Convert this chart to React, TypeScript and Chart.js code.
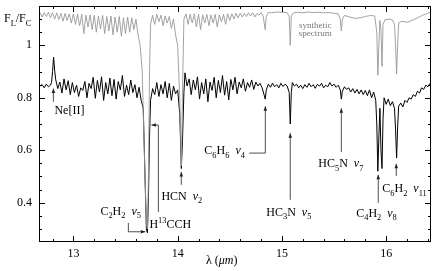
import React, { useEffect, useRef } from "react";
import { Chart, registerables } from "chart.js";

Chart.register(...registerables);

// ---- Observed spectrum (F_L / F_C) ----
const obsWave = [
  12.68, 12.70, 12.72, 12.74, 12.76, 12.78, 12.79, 12.80, 12.81, 12.82,
  12.83, 12.85, 12.87, 12.89, 12.91, 12.93, 12.95, 12.97, 12.99, 13.01,
  13.03, 13.05, 13.07, 13.09, 13.11, 13.13, 13.15, 13.17, 13.19, 13.21,
  13.23, 13.25, 13.27, 13.29, 13.31, 13.33, 13.35, 13.37, 13.39, 13.41,
  13.43, 13.45, 13.47, 13.49, 13.51, 13.53, 13.55, 13.57, 13.59, 13.61,
  13.63, 13.65, 13.67, 13.69, 13.70, 13.71, 13.72, 13.73, 13.74, 13.76,
  13.78, 13.80, 13.82, 13.84, 13.86, 13.88, 13.90, 13.92, 13.94, 13.96,
  13.98, 14.00, 14.02, 14.035, 14.045, 14.06, 14.07, 14.09, 14.11, 14.13,
  14.15, 14.17, 14.19, 14.21, 14.23, 14.25, 14.27, 14.29, 14.31, 14.33,
  14.35, 14.37, 14.39, 14.41, 14.43, 14.45, 14.47, 14.49, 14.51, 14.53,
  14.55, 14.57, 14.59, 14.61, 14.63, 14.65, 14.67, 14.69, 14.71, 14.73,
  14.75, 14.77, 14.79, 14.81, 14.83, 14.84, 14.85, 14.87, 14.89, 14.91,
  14.93, 14.95, 14.97, 14.99, 15.01, 15.03, 15.05, 15.07, 15.08, 15.09,
  15.10, 15.12, 15.14, 15.16, 15.18, 15.20, 15.22, 15.24, 15.26, 15.28,
  15.30, 15.32, 15.34, 15.36, 15.38, 15.40, 15.42, 15.44, 15.46, 15.48,
  15.50, 15.52, 15.54, 15.56, 15.57, 15.58, 15.60, 15.62, 15.64, 15.66,
  15.68, 15.70, 15.72, 15.74, 15.76, 15.78, 15.80, 15.82, 15.84, 15.86,
  15.88, 15.90, 15.91, 15.92, 15.93, 15.94, 15.95, 15.96, 15.97, 15.98,
  16.00, 16.02, 16.04, 16.06, 16.08, 16.09, 16.10, 16.11, 16.12, 16.14,
  16.16, 16.18, 16.20, 16.22, 16.24, 16.26, 16.28, 16.30, 16.32, 16.34,
  16.36, 16.38, 16.40, 16.42,
];
const obsFlux = [
  0.845, 0.850, 0.838, 0.852, 0.842, 0.848, 0.858, 0.900, 0.955, 0.905,
  0.870, 0.835, 0.860, 0.818, 0.872, 0.830, 0.865, 0.812, 0.858, 0.820,
  0.848, 0.805, 0.838, 0.828, 0.862, 0.800, 0.855, 0.835, 0.878, 0.798,
  0.866, 0.822, 0.880, 0.790, 0.858, 0.815, 0.875, 0.808, 0.870, 0.795,
  0.862, 0.830, 0.885, 0.805, 0.848, 0.812, 0.868, 0.820, 0.850, 0.800,
  0.840, 0.790, 0.760, 0.450, 0.300, 0.285, 0.420, 0.650, 0.790, 0.835,
  0.812, 0.858, 0.805, 0.850, 0.815, 0.862, 0.800, 0.855, 0.790, 0.845,
  0.815, 0.830, 0.740, 0.530, 0.620, 0.820, 0.895, 0.845, 0.872, 0.812,
  0.868, 0.830, 0.880, 0.795, 0.858, 0.815, 0.872, 0.785, 0.860, 0.828,
  0.878, 0.800, 0.866, 0.820, 0.885, 0.810, 0.862, 0.792, 0.870, 0.830,
  0.878, 0.815, 0.860, 0.838, 0.872, 0.825, 0.858, 0.840, 0.868, 0.832,
  0.860, 0.845, 0.855, 0.838, 0.810, 0.795, 0.830, 0.852, 0.840, 0.856,
  0.842, 0.850, 0.838, 0.855, 0.843, 0.852, 0.845, 0.820, 0.700, 0.820,
  0.858, 0.845, 0.852, 0.838, 0.848, 0.835, 0.850, 0.840, 0.855, 0.842,
  0.850, 0.836, 0.852, 0.844, 0.855, 0.838, 0.848, 0.842, 0.858, 0.845,
  0.852, 0.840, 0.848, 0.830, 0.795, 0.825, 0.842, 0.832, 0.838, 0.822,
  0.835, 0.818, 0.832, 0.815, 0.830, 0.812, 0.828, 0.808, 0.830, 0.800,
  0.822, 0.790, 0.700, 0.520, 0.650, 0.760, 0.600, 0.530, 0.720, 0.800,
  0.775, 0.795, 0.770, 0.785, 0.760, 0.680, 0.570, 0.690, 0.768, 0.780,
  0.765, 0.790, 0.782, 0.800, 0.795, 0.812, 0.805, 0.825, 0.818, 0.838,
  0.832, 0.848, 0.842, 0.855,
];

// ---- Synthetic spectrum ----
const synWave = [
  12.68, 12.70, 12.72, 12.74, 12.76, 12.78, 12.80, 12.82, 12.84, 12.86,
  12.88, 12.90, 12.92, 12.94, 12.96, 12.98, 13.00, 13.02, 13.04, 13.06,
  13.08, 13.10, 13.12, 13.14, 13.16, 13.18, 13.20, 13.22, 13.24, 13.26,
  13.28, 13.30, 13.32, 13.34, 13.36, 13.38, 13.40, 13.42, 13.44, 13.46,
  13.48, 13.50, 13.52, 13.54, 13.56, 13.58, 13.60, 13.62, 13.64, 13.66,
  13.68, 13.70, 13.71, 13.72, 13.73, 13.74, 13.76, 13.78, 13.80, 13.82,
  13.84, 13.86, 13.88, 13.90, 13.92, 13.94, 13.96, 13.98, 14.00, 14.02,
  14.035, 14.05, 14.06, 14.08, 14.10, 14.12, 14.14, 14.16, 14.18, 14.20,
  14.22, 14.24, 14.26, 14.28, 14.30, 14.32, 14.34, 14.36, 14.38, 14.40,
  14.42, 14.44, 14.46, 14.48, 14.50, 14.52, 14.54, 14.56, 14.58, 14.60,
  14.62, 14.64, 14.66, 14.68, 14.70, 14.72, 14.74, 14.76, 14.78, 14.80,
  14.82, 14.84, 14.85, 14.87, 14.90, 14.95, 15.00, 15.05, 15.07, 15.08,
  15.09, 15.11, 15.15, 15.20, 15.25, 15.30, 15.35, 15.40, 15.45, 15.50,
  15.54, 15.56, 15.57, 15.58, 15.60, 15.65, 15.70, 15.75, 15.80, 15.85,
  15.89, 15.91, 15.92, 15.93, 15.94, 15.95, 15.96, 15.97, 15.99, 16.03,
  16.06, 16.08, 16.09, 16.10, 16.11, 16.12, 16.15, 16.20, 16.25, 16.30,
  16.35, 16.40, 16.43,
];
const synFlux = [
  1.125, 1.108, 1.125, 1.110, 1.126, 1.105, 1.125, 1.100, 1.124, 1.098,
  1.122, 1.092, 1.122, 1.095, 1.120, 1.085, 1.120, 1.080, 1.118, 1.075,
  1.118, 1.045, 1.115, 1.070, 1.116, 1.060, 1.115, 1.050, 1.112, 1.062,
  1.114, 1.045, 1.110, 1.055, 1.112, 1.040, 1.108, 1.050, 1.110, 1.035,
  1.105, 1.045, 1.108, 1.050, 1.105, 1.060, 1.100, 1.040, 1.000, 0.900,
  0.600, 0.320, 0.300, 0.500, 0.900, 1.080, 1.115, 1.080, 1.118, 1.090,
  1.115, 1.075, 1.112, 1.085, 1.110, 1.065, 1.100, 1.040, 1.000, 0.800,
  0.540, 0.900, 1.100, 1.120, 1.080, 1.118, 1.085, 1.120, 1.070, 1.118,
  1.060, 1.116, 1.085, 1.118, 1.075, 1.116, 1.085, 1.118, 1.070, 1.116,
  1.090, 1.118, 1.080, 1.120, 1.095, 1.120, 1.100, 1.122, 1.105, 1.122,
  1.108, 1.122, 1.110, 1.124, 1.112, 1.124, 1.108, 1.122, 1.115, 1.125,
  1.112, 1.060, 1.110, 1.126, 1.124, 1.127, 1.126, 1.125, 1.110, 1.000,
  1.112, 1.124, 1.126, 1.124, 1.127, 1.125, 1.126, 1.124, 1.125, 1.122,
  1.120, 1.100, 1.055, 1.100, 1.114, 1.108, 1.103, 1.105, 1.110, 1.114,
  1.112, 1.050, 0.886, 1.000, 1.095, 1.060, 0.920, 1.080, 1.098, 1.100,
  1.097, 1.080, 1.000, 0.890, 1.000, 1.085, 1.092, 1.088, 1.095, 1.105,
  1.115, 1.122, 1.128,
];

// ---- Axes ----
const xMin = 12.67;
const xMax = 16.43;
const yMin = 0.25;
const yMax = 1.15;
const xTickLabels = [13, 14, 15, 16];
const yTickLabels = [0.4, 0.6, 0.8, 1];

// ---- Line identifications ----
const labelTexts = [
  "Ne[II]",
  "C_2H_2  ν_5",
  "H^{13}CCH",
  "HCN  ν_2",
  "C_6H_6  ν_4",
  "HC_3N  ν_5",
  "HC_5N  ν_7",
  "C_4H_2  ν_8",
  "C_6H_2  ν_{11}",
];
const labelWave = [12.818, 13.259, 13.729, 13.844, 14.256, 14.85, 15.349, 15.713, 15.963];
const labelFlux = [0.753, 0.369, 0.319, 0.426, 0.6, 0.365, 0.551, 0.361, 0.456];
const arrowPaths: number[][][] = [
  [[12.808, 0.785], [12.808, 0.835]],
  [[13.527, 0.323], [13.527, 0.289], [13.69, 0.289]],
  [[13.815, 0.365], [13.815, 0.696], [13.748, 0.696]],
  [[14.035, 0.468], [14.035, 0.517]],
  [[14.687, 0.589], [14.841, 0.589], [14.841, 0.768]],
  [[15.08, 0.411], [15.08, 0.665]],
  [[15.57, 0.593], [15.57, 0.76]],
  [[15.924, 0.399], [15.924, 0.506]],
  [[16.097, 0.502], [16.097, 0.548]],
];
const synNote = ["synthetic", "spectrum"];
const synNoteWave = 15.32;
const synNoteFlux = [1.076, 1.044];

const SERIF = '"Liberation Serif", "DejaVu Serif", serif';

type Seg = { t: string; m: number };
function parseRich(s: string): Seg[] {
  const out: Seg[] = [];
  let i = 0;
  let buf = "";
  while (i < s.length) {
    const c = s[i];
    if (c === "_" || c === "^") {
      if (buf) {
        out.push({ t: buf, m: 0 });
        buf = "";
      }
      let t: string;
      if (s[i + 1] === "{") {
        const j = s.indexOf("}", i);
        t = s.slice(i + 2, j);
        i = j + 1;
      } else {
        t = s[i + 1];
        i += 2;
      }
      out.push({ t, m: c === "_" ? 1 : -1 });
    } else {
      buf += c;
      i++;
    }
  }
  if (buf) out.push({ t: buf, m: 0 });
  return out;
}

function drawRich(ctx: CanvasRenderingContext2D, s: string, x: number, baseline: number, size: number) {
  const segs = parseRich(s);
  let cx = x;
  ctx.textAlign = "left";
  ctx.textBaseline = "alphabetic";
  for (const seg of segs) {
    const sz = seg.m === 0 ? size : size * 0.7;
    const dy = seg.m === 1 ? size * 0.3 : seg.m === -1 ? -size * 0.38 : 0;
    // draw Greek letters in italic (math style)
    const parts = seg.t.split(/(ν)/).filter((p) => p.length > 0);
    for (const p of parts) {
      ctx.font = `${p === "ν" ? "italic " : ""}${sz}px ${SERIF}`;
      ctx.fillText(p, cx, baseline + dy);
      cx += ctx.measureText(p).width;
    }
  }
}

const overlay = {
  id: "overlay",
  afterDatasetsDraw(chart: any) {
    const ctx: CanvasRenderingContext2D = chart.ctx;
    const { left, right, top, bottom } = chart.chartArea;
    const xs = chart.scales.x;
    const ys = chart.scales.y;
    ctx.save();
    // frame
    ctx.strokeStyle = "#000";
    ctx.lineWidth = 1;
    ctx.strokeRect(Math.round(left) + 0.5, Math.round(top) + 0.5, Math.round(right - left) - 1, Math.round(bottom - top) - 1);
    // x ticks (inward, bottom & top)
    ctx.beginPath();
    for (let k = 64; k <= 82; k++) {
      const v = k * 0.2;
      const px = Math.round(xs.getPixelForValue(v)) + 0.5;
      const major = k % 5 === 0;
      const len = major ? 6 : 3;
      ctx.moveTo(px, bottom);
      ctx.lineTo(px, bottom - len);
      ctx.moveTo(px, top);
      ctx.lineTo(px, top + len);
    }
    // y ticks (inward, left & right)
    for (let k = 6; k <= 22; k++) {
      const v = k * 0.05;
      const py = Math.round(ys.getPixelForValue(v)) + 0.5;
      const major = k % 4 === 0;
      const len = major ? 6 : 3;
      ctx.moveTo(left, py);
      ctx.lineTo(left + len, py);
      ctx.moveTo(right, py);
      ctx.lineTo(right - len, py);
    }
    ctx.stroke();

    // tick labels
    ctx.fillStyle = "#000";
    ctx.font = `12px ${SERIF}`;
    ctx.textBaseline = "middle";
    ctx.textAlign = "center";
    for (const v of xTickLabels) {
      ctx.fillText(String(v), xs.getPixelForValue(v), bottom + 12);
    }
    ctx.textAlign = "right";
    for (const v of yTickLabels) {
      ctx.fillText(String(v), left - 7, ys.getPixelForValue(v));
    }

    // axis titles
    drawRich(ctx, "F_L/F_C", 4, 22, 12);
    ctx.font = `12px ${SERIF}`;
    ctx.textAlign = "left";
    ctx.textBaseline = "alphabetic";
    ctx.fillText("λ (", 206, 264);
    let w = ctx.measureText("λ (").width;
    ctx.font = `italic 12px ${SERIF}`;
    ctx.fillText("μm", 206 + w, 264);
    w += ctx.measureText("μm").width;
    ctx.font = `12px ${SERIF}`;
    ctx.fillText(")", 206 + w, 264);

    // annotations
    ctx.strokeStyle = "#222";
    ctx.fillStyle = "#222";
    ctx.lineWidth = 0.8;
    for (const path of arrowPaths) {
      const pts = path.map(([a, b]) => [xs.getPixelForValue(a), ys.getPixelForValue(b)]);
      ctx.beginPath();
      ctx.moveTo(pts[0][0], pts[0][1]);
      for (let i = 1; i < pts.length; i++) ctx.lineTo(pts[i][0], pts[i][1]);
      ctx.stroke();
      const [x1, y1] = pts[pts.length - 2];
      const [x2, y2] = pts[pts.length - 1];
      const ang = Math.atan2(y2 - y1, x2 - x1);
      const L = 4.5;
      const H = 1.8;
      ctx.beginPath();
      ctx.moveTo(x2, y2);
      ctx.lineTo(x2 - L * Math.cos(ang) + H * Math.sin(ang), y2 - L * Math.sin(ang) - H * Math.cos(ang));
      ctx.lineTo(x2 - L * Math.cos(ang) - H * Math.sin(ang), y2 - L * Math.sin(ang) + H * Math.cos(ang));
      ctx.closePath();
      ctx.fill();
    }
    ctx.fillStyle = "#000";
    labelTexts.forEach((t, i) => {
      const px = xs.getPixelForValue(labelWave[i]);
      const py = ys.getPixelForValue(labelFlux[i]);
      drawRich(ctx, t, px, py + 4, 12);
    });

    // synthetic spectrum note
    ctx.fillStyle = "#777";
    ctx.font = `9px ${SERIF}`;
    ctx.textAlign = "center";
    ctx.textBaseline = "middle";
    synNote.forEach((t, i) => {
      ctx.fillText(t, xs.getPixelForValue(synNoteWave), ys.getPixelForValue(synNoteFlux[i]));
    });
    ctx.restore();
  },
};

export default function App() {
  const ref = useRef<HTMLCanvasElement | null>(null);
  useEffect(() => {
    document.body.style.margin = "0";
    const canvas = ref.current;
    if (!canvas) return;
    const chart = new Chart(canvas, {
      type: "line",
      data: {
        datasets: [
          {
            label: "synthetic",
            data: synWave.map((x, i) => ({ x, y: synFlux[i] })),
            borderColor: "#999999",
            borderWidth: 0.9,
            pointRadius: 0,
            tension: 0,
            fill: false,
          },
          {
            label: "observed",
            data: obsWave.map((x, i) => ({ x, y: obsFlux[i] })),
            borderColor: "#000",
            borderWidth: 1,
            pointRadius: 0,
            tension: 0,
            fill: false,
          },
        ],
      },
      options: {
        responsive: false,
        animation: false,
        events: [],
        layout: { padding: { top: 6, right: 5, left: 0, bottom: 0 } },
        plugins: { legend: { display: false }, tooltip: { enabled: false } },
        scales: {
          x: {
            type: "linear",
            min: xMin,
            max: xMax,
            grid: { display: false, drawTicks: false },
            border: { display: false },
            ticks: { display: false },
            afterFit: (s: any) => {
              s.height = 29;
            },
          },
          y: {
            type: "linear",
            min: yMin,
            max: yMax,
            grid: { display: false, drawTicks: false },
            border: { display: false },
            ticks: { display: false },
            afterFit: (s: any) => {
              s.width = 39;
            },
          },
        },
      },
      plugins: [overlay],
    });
    return () => chart.destroy();
  }, []);
  return (
    <div style={{ width: 436, height: 271 }}>
      <canvas ref={ref} width={436} height={271} style={{ display: "block" }} />
    </div>
  );
}
